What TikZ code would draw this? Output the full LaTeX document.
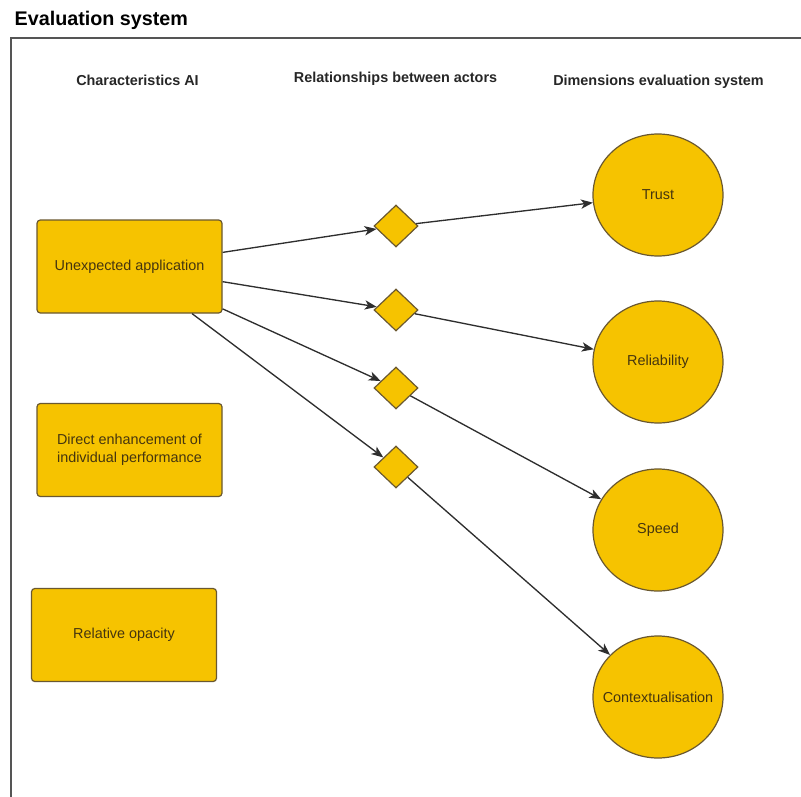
\documentclass[tikz,border=0pt]{standalone}
\usepackage{fontspec}
\setmainfont{Liberation Sans}
\usetikzlibrary{shapes.geometric,arrows.meta}
\definecolor{gold}{HTML}{F6C300}
\definecolor{goldedge}{HTML}{6A5830}
\definecolor{inktext}{HTML}{45350F}
\definecolor{wire}{HTML}{2E2E2E}
\definecolor{framegray}{HTML}{555555}
\begin{document}
\begin{tikzpicture}[x=0.75pt,y=-0.75pt,
  txt/.style={font=\fontsize{10.8}{13.5}\selectfont, text=inktext},
  charbox/.style={txt, draw=goldedge, fill=gold, line width=0.9pt, rounded corners=2.5pt,
    minimum width=138.75pt, minimum height=69.75pt, align=center, inner sep=2pt},
  relnode/.style={diamond, draw=goldedge, fill=gold, line width=0.9pt,
    minimum width=33pt, minimum height=31.5pt, inner sep=0pt},
  dimnode/.style={ellipse, draw=goldedge, fill=gold, line width=0.9pt,
    minimum width=97.5pt, minimum height=91.5pt, inner sep=0pt,
    label={[txt]center:#1}},
  header/.style={font=\bfseries\fontsize{10.8}{13}\selectfont, text=black!85},
  arr/.style={draw=wire, line width=1pt, -{Stealth[length=9pt,width=7pt,inset=2.5pt]}}
]
\useasboundingbox (0,0) rectangle (801,797);

% title and frame
\node[anchor=west, font=\bfseries\fontsize{14.8}{17}\selectfont] (title) at (10,20) {Evaluation system};
\draw[framegray, line width=1.5pt] (801,38) -- (11,38) -- (11,797);

% column headers
\node[header] (hchar) at (137.5,80) {Characteristics AI};
\node[header] (hrel) at (395.5,79) {Relationships between actors};
\node[header] (hdim) at (658.5,82) {Dimensions evaluation system};

% characteristics of AI
\node[charbox] (b1) at (129.5,266.5) {Unexpected application};
\node[charbox] (b2) at (129.5,450) {Direct enhancement of\\individual performance};
\node[charbox] (b3) at (124,635) {Relative opacity};

% relationships between actors
\node[relnode] (d1) at (396,226) {};
\node[relnode] (d2) at (396,310) {};
\node[relnode] (d3) at (396,388) {};
\node[relnode] (d4) at (396,467) {};

% dimensions of the evaluation system
\node[dimnode=Trust] (trust) at (658,195) {};
\node[dimnode=Reliability] (rel) at (658,362) {};
\node[dimnode=Speed] (speed) at (658,530) {};
\node[dimnode=Contextualisation] (ctx) at (658,697) {};

% connectors
\draw[arr] (b1) -- (d1);
\draw[arr] (b1) -- (d2);
\draw[arr] (b1) -- (d3);
\draw[arr] (b1) -- (d4);
\draw[arr] (d1) -- (trust);
\draw[arr] (d2) -- (rel);
\draw[arr] (d3) -- (speed);
\draw[arr] (d4) -- (ctx);
\end{tikzpicture}
\end{document}
